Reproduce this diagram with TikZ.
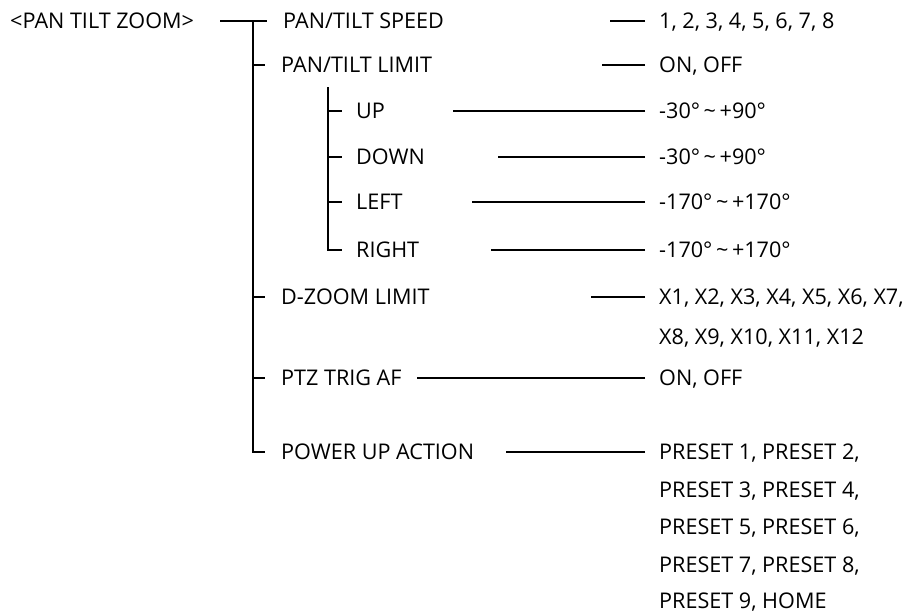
\documentclass[tikz,border=0pt]{standalone}
\usepackage{fontspec}
\setmainfont{Open Sans}
\begin{document}
\begin{tikzpicture}[x=1pt,y=-1pt,
  lbl/.style={anchor=west,inner ysep=0pt,text height=15.4pt,text depth=0pt,font=\fontsize{21.6}{24}\selectfont},
  mainlbl/.style={lbl,inner xsep=16pt},
  sublbl/.style={lbl,inner xsep=14pt},
  vallbl/.style={lbl,inner xsep=14pt},
  rootlbl/.style={lbl,inner xsep=0pt},
  conn/.style={line width=1.5pt}]
\useasboundingbox (0,0) rectangle (920,613);
% root
\node[rootlbl] (root) at (10,21) {<PAN TILT ZOOM>};
\coordinate (rootL) at (220,21);
\coordinate (trunkTop) at (253,21);
\coordinate (trunkBot) at (253,452);
% main labels
\node[mainlbl] (speed) at (267,21) {PAN/TILT SPEED};
\node[mainlbl] (limit) at (265,65) {PAN/TILT LIMIT};
\node[mainlbl] (dzoom) at (265,297) {D-ZOOM LIMIT};
\node[mainlbl] (ptz) at (265,378) {PTZ TRIG AF};
\node[mainlbl] (power) at (265,452) {POWER UP ACTION};
% sub labels
\coordinate (subTop) at (328,87);
\node[sublbl] (up) at (342,111) {UP};
\node[sublbl] (down) at (342,157) {DOWN};
\node[sublbl] (left) at (342,202) {LEFT};
\node[sublbl] (right) at (342,250) {RIGHT};
% values
\node[vallbl] (vspeed) at (645,21) {1, 2, 3, 4, 5, 6, 7, 8};
\node[vallbl] (vlimit) at (645,65) {ON, OFF};
\node[vallbl] (vup) at (645,111) {-30°\,\textasciitilde\,+90°};
\node[vallbl] (vdown) at (645,157) {-30°\,\textasciitilde\,+90°};
\node[vallbl] (vleft) at (645,202) {-170°\,\textasciitilde\,+170°};
\node[vallbl] (vright) at (645,250) {-170°\,\textasciitilde\,+170°};
\node[vallbl] (vdzoom) at (645,297) {X1, X2, X3, X4, X5, X6, X7,};
\node[vallbl] (vdzoomb) at (645,337) {X8, X9, X10, X11, X12};
\node[vallbl] (vptz) at (645,378) {ON, OFF};
\node[vallbl] (vpower) at (645,452) {PRESET 1, PRESET 2,};
\node[vallbl] (vpowerb) at (645,490) {PRESET 3, PRESET 4,};
\node[vallbl] (vpowerc) at (645,527) {PRESET 5, PRESET 6,};
\node[vallbl] (vpowerd) at (645,565) {PRESET 7, PRESET 8,};
\node[vallbl] (vpowere) at (645,601) {PRESET 9, HOME};
% trunk
\draw[conn] (rootL) -- (speed.west);
\draw[conn] (trunkTop) -- (trunkBot) -- (power.west);
\draw[conn] (trunkTop |- limit.west) -- (limit.west);
\draw[conn] (trunkTop |- dzoom.west) -- (dzoom.west);
\draw[conn] (trunkTop |- ptz.west) -- (ptz.west);
% subtree
\draw[conn] (subTop) -- (subTop |- right.west) -- (right.west);
\draw[conn] (subTop |- up.west) -- (up.west);
\draw[conn] (subTop |- down.west) -- (down.west);
\draw[conn] (subTop |- left.west) -- (left.west);
% value connectors
\draw[conn] (vspeed.west) -- ++(-35,0);
\draw[conn] (vlimit.west) -- ++(-43,0);
\draw[conn] (vup.west) -- ++(-192,0);
\draw[conn] (vdown.west) -- ++(-147,0);
\draw[conn] (vleft.west) -- ++(-173,0);
\draw[conn] (vright.west) -- ++(-154,0);
\draw[conn] (vdzoom.west) -- ++(-54,0);
\draw[conn] (vptz.west) -- ++(-228,0);
\draw[conn] (vpower.west) -- ++(-139,0);
\end{tikzpicture}
\end{document}
